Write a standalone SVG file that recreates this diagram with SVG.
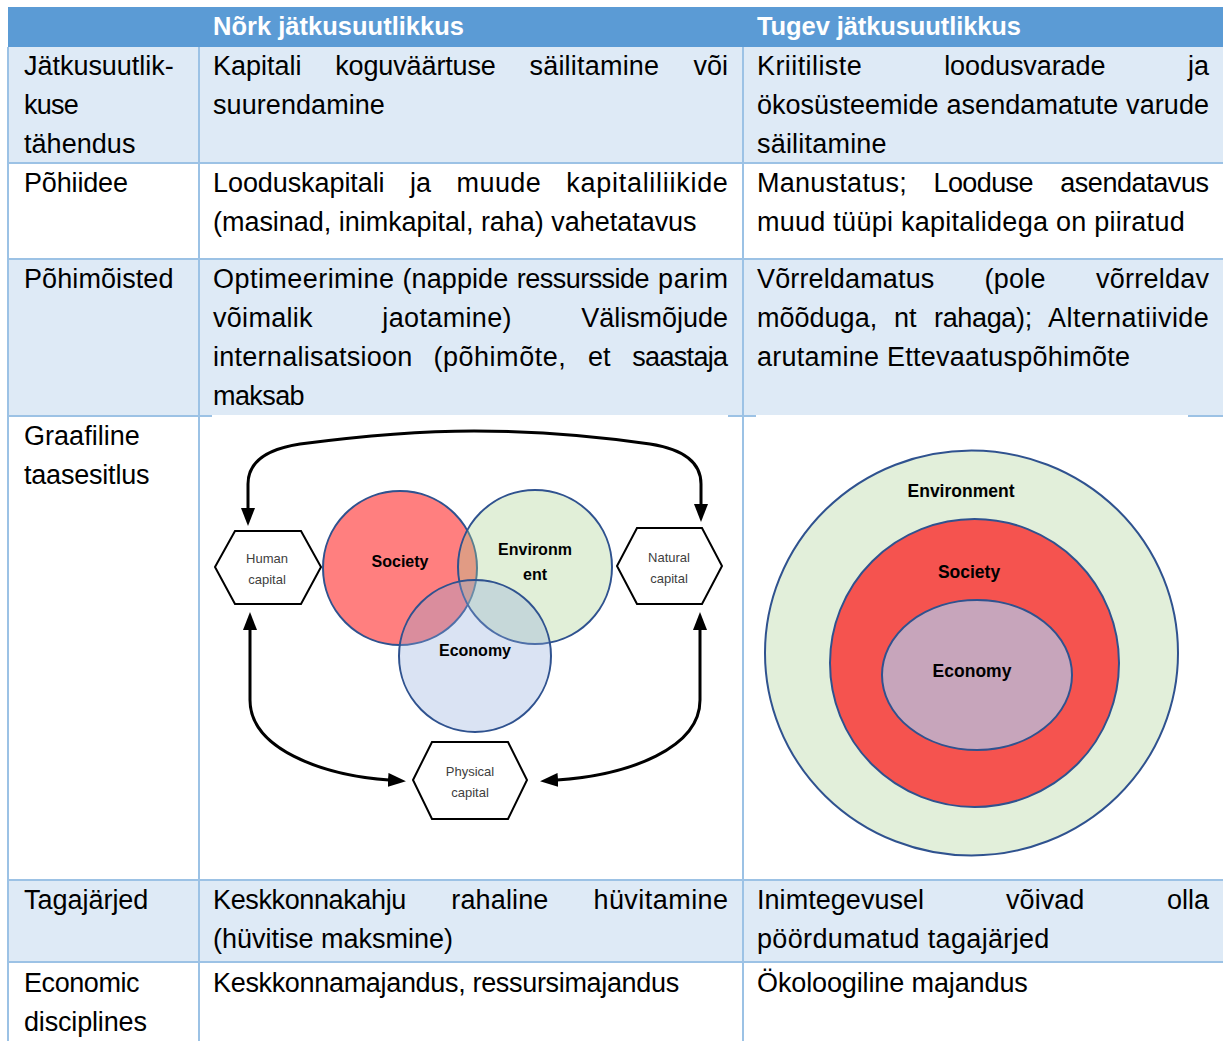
<svg xmlns="http://www.w3.org/2000/svg" width="1223" height="1041" viewBox="0 0 1223 1041">
<style>
.t{font-family:"Liberation Sans",Arial,sans-serif;font-size:27px;fill:#000}
.h{font-family:"Liberation Sans",Arial,sans-serif;font-size:25.5px;font-weight:bold;fill:#fff}
.band{fill:#DEEAF6}
.grid{stroke:#9CC2E5;stroke-width:2;fill:none}
.hex{fill:#fff;stroke:#000;stroke-width:2}
.hx{font-family:"Liberation Sans",Arial,sans-serif;font-size:13px;fill:#404040;text-anchor:middle}
.cl{font-family:"Liberation Sans",Arial,sans-serif;font-size:16px;font-weight:bold;fill:#000;text-anchor:middle}
.cr{font-family:"Liberation Sans",Arial,sans-serif;font-size:17.5px;font-weight:bold;fill:#000;text-anchor:middle}
.circ{stroke:#2F528F;stroke-width:2}
.conn{fill:none;stroke:#000;stroke-width:3}
</style>
<defs>
<marker id="ah" viewBox="0 0 18 14" refX="1" refY="7" markerWidth="18" markerHeight="14" markerUnits="userSpaceOnUse" orient="auto-start-reverse"><path d="M0,0 L18,7 L0,14 z" fill="#000"/></marker>
</defs>
<rect width="1223" height="1041" fill="#fff"/>
<g id="table">
<rect x="8" y="7" width="1215" height="40" fill="#5B9BD5"/>
<rect class="band" x="8" y="47" width="1215" height="116"/>
<rect class="band" x="8" y="259" width="1215" height="157"/>
<rect class="band" x="8" y="880" width="1215" height="82"/>
<path class="grid" d="M8,47V1041M199,47V1041M743,47V1041M8,163H1223M8,259H1223M8,416H1223M8,880H1223M8,962H1223"/>
<text class="h" x="213" y="35" textLength="251">Nõrk jätkusuutlikkus</text>
<text class="h" x="757" y="35" textLength="264">Tugev jätkusuutlikkus</text>
</g>
<g id="row1">
<text class="t" x="24" y="75" textLength="149.7">Jätkusuutlik-</text>
<text class="t" x="24" y="114" textLength="54.8">kuse</text>
<text class="t" x="24" y="153" textLength="111.4">tähendus</text>
<text class="t" y="75"><tspan x="213" textLength="88.6">Kapitali</tspan><tspan x="335.2" textLength="160.7">koguväärtuse</tspan><tspan x="529.5" textLength="129.6">säilitamine</tspan><tspan x="693.5">või</tspan></text>
<text class="t" x="213" y="114" textLength="171.9">suurendamine</text>
<text class="t" y="75"><tspan x="757" textLength="104.7">Kriitiliste</tspan><tspan x="944.2" textLength="161.3">loodusvarade</tspan><tspan x="1188">ja</tspan></text>
<text class="t" y="114"><tspan x="757" textLength="181.6">ökosüsteemide</tspan><tspan x="946.4" textLength="171.9">asendamatute</tspan><tspan x="1126.1" textLength="82.9">varude</tspan></text>
<text class="t" x="757" y="153" textLength="129.6">säilitamine</text>
</g>
<g id="row2">
<text class="t" x="24" y="192" textLength="104">Põhiidee</text>
<text class="t" y="192"><tspan x="213" textLength="171.6">Looduskapitali</tspan><tspan x="410.1">ja</tspan><tspan x="456.6" textLength="84.2">muude</tspan><tspan x="566.3" textLength="161.6">kapitaliliikide</tspan></text>
<text class="t" x="213" y="231" textLength="483.6">(masinad, inimkapital, raha) vahetatavus</text>
<text class="t" y="192"><tspan x="757" textLength="149.7">Manustatus;</tspan><tspan x="933.5" textLength="100">Looduse</tspan><tspan x="1060.2" textLength="148.8">asendatavus</tspan></text>
<text class="t" x="757" y="231" textLength="427.7">muud tüüpi kapitalidega on piiratud</text>
</g>
<g id="row3">
<text class="t" x="24" y="288" textLength="149.5">Põhimõisted</text>
<text class="t" y="288"><tspan x="213" textLength="181">Optimeerimine</tspan><tspan x="402.5" textLength="105.7">(nappide</tspan><tspan x="516.7" textLength="132.9">ressursside</tspan><tspan x="658.1" textLength="69.8">parim</tspan></text>
<text class="t" y="327"><tspan x="213" textLength="99.6">võimalik</tspan><tspan x="382.3" textLength="129.3">jaotamine)</tspan><tspan x="581.3" textLength="146.7">Välismõjude</tspan></text>
<text class="t" y="366"><tspan x="213" textLength="199.4">internalisatsioon</tspan><tspan x="433.4" textLength="132.4">(põhimõte,</tspan><tspan x="588">et</tspan><tspan x="632.2" textLength="95.9">saastaja</tspan></text>
<text class="t" x="213" y="405" textLength="91.6">maksab</text>
<text class="t" y="288"><tspan x="757" textLength="177.3">Võrreldamatus</tspan><tspan x="984.6" textLength="61">(pole</tspan><tspan x="1095.9" textLength="113.1">võrreldav</tspan></text>
<text class="t" y="327"><tspan x="757" textLength="120.2">mõõduga,</tspan><tspan x="894">nt</tspan><tspan x="934" textLength="98.2">rahaga);</tspan><tspan x="1048" textLength="160.9">Alternatiivide</tspan></text>
<text class="t" x="757" y="366" textLength="373">arutamine Ettevaatuspõhimõte</text>
</g>
<g id="row4">
<text class="t" x="24" y="445" textLength="115.8">Graafiline</text>
<text class="t" x="24" y="484" textLength="125.5">taasesitlus</text>
<rect x="212" y="415" width="516" height="440" fill="#fff"/>
<rect x="756" y="415" width="432" height="440" fill="#fff"/>
</g>
<g id="row5">
<text class="t" x="24" y="909" textLength="124.4">Tagajärjed</text>
<text class="t" y="909"><tspan x="213" textLength="193.3">Keskkonnakahju</tspan><tspan x="451.3" textLength="97.1">rahaline</tspan><tspan x="593.4" textLength="134.7">hüvitamine</tspan></text>
<text class="t" x="213" y="948" textLength="240">(hüvitise maksmine)</text>
<text class="t" y="909"><tspan x="757" textLength="167.1">Inimtegevusel</tspan><tspan x="1006.1" textLength="78.1">võivad</tspan><tspan x="1167">olla</tspan></text>
<text class="t" x="757" y="948" textLength="292.4">pöördumatud tagajärjed</text>
</g>
<g id="row6">
<text class="t" x="24" y="992" textLength="115.5">Economic</text>
<text class="t" x="24" y="1031" textLength="122.9">disciplines</text>
<text class="t" x="213" y="992" textLength="466.2">Keskkonnamajandus, ressursimajandus</text>
<text class="t" x="757" y="992" textLength="270.8">Ökoloogiline majandus</text>
</g>
<g id="weak-diagram">
<g id="society-circle"><circle class="circ" cx="400" cy="568" r="77" fill="#FF7F7F"/></g>
<g id="environment-circle"><circle class="circ" cx="535" cy="567" r="77" fill="#A9D18E" fill-opacity="0.35"/></g>
<g id="economy-circle"><circle class="circ" cx="475" cy="656" r="76" fill="#8FAADC" fill-opacity="0.33"/></g>
<text class="cl" x="400" y="567">Society</text>
<text class="cl" x="535" y="555">Environm</text>
<text class="cl" x="535" y="580">ent</text>
<text class="cl" x="475" y="656">Economy</text>
<g id="human-capital"><polygon class="hex" points="215,567 235,531 301,531 321,567 301,604 235,604"/><text class="hx" x="267" y="563">Human</text><text class="hx" x="267" y="584">capital</text></g>
<g id="natural-capital"><polygon class="hex" points="617,566 637,528 702,528 722,566 702,604 637,604"/><text class="hx" x="669" y="562">Natural</text><text class="hx" x="669" y="583">capital</text></g>
<g id="physical-capital"><polygon class="hex" points="413,780 432,742 508,742 527,780 508,819 432,819"/><text class="hx" x="470" y="776">Physical</text><text class="hx" x="470" y="797">capital</text></g>
</g>
<g id="connectors">
<path class="conn" marker-start="url(#ah)" marker-end="url(#ah)" d="M248,509 V484 Q248,452 300,444 Q400,431 474,431 Q560,431 650,444 Q701,452 701,484 V505"/>
<path class="conn" marker-start="url(#ah)" marker-end="url(#ah)" d="M250,629 V700 C250,748 320,775 389,780"/>
<path class="conn" marker-start="url(#ah)" marker-end="url(#ah)" d="M700,629 V700 C700,748 630,775 557,780"/>
</g>
<g id="strong-diagram">
<g id="environment-outer"><ellipse class="circ" cx="971.5" cy="653" rx="206.5" ry="202.5" fill="#E2EFDA"/></g>
<g id="society-middle"><ellipse class="circ" cx="974.5" cy="663" rx="144.5" ry="144" fill="#F5534F"/></g>
<g id="economy-inner"><ellipse class="circ" cx="977" cy="675" rx="95" ry="75" fill="#C7A5BB"/></g>
<text class="cr" x="961" y="497">Environment</text>
<text class="cr" x="969" y="578">Society</text>
<text class="cr" x="972" y="677">Economy</text>
</g>
</svg>
